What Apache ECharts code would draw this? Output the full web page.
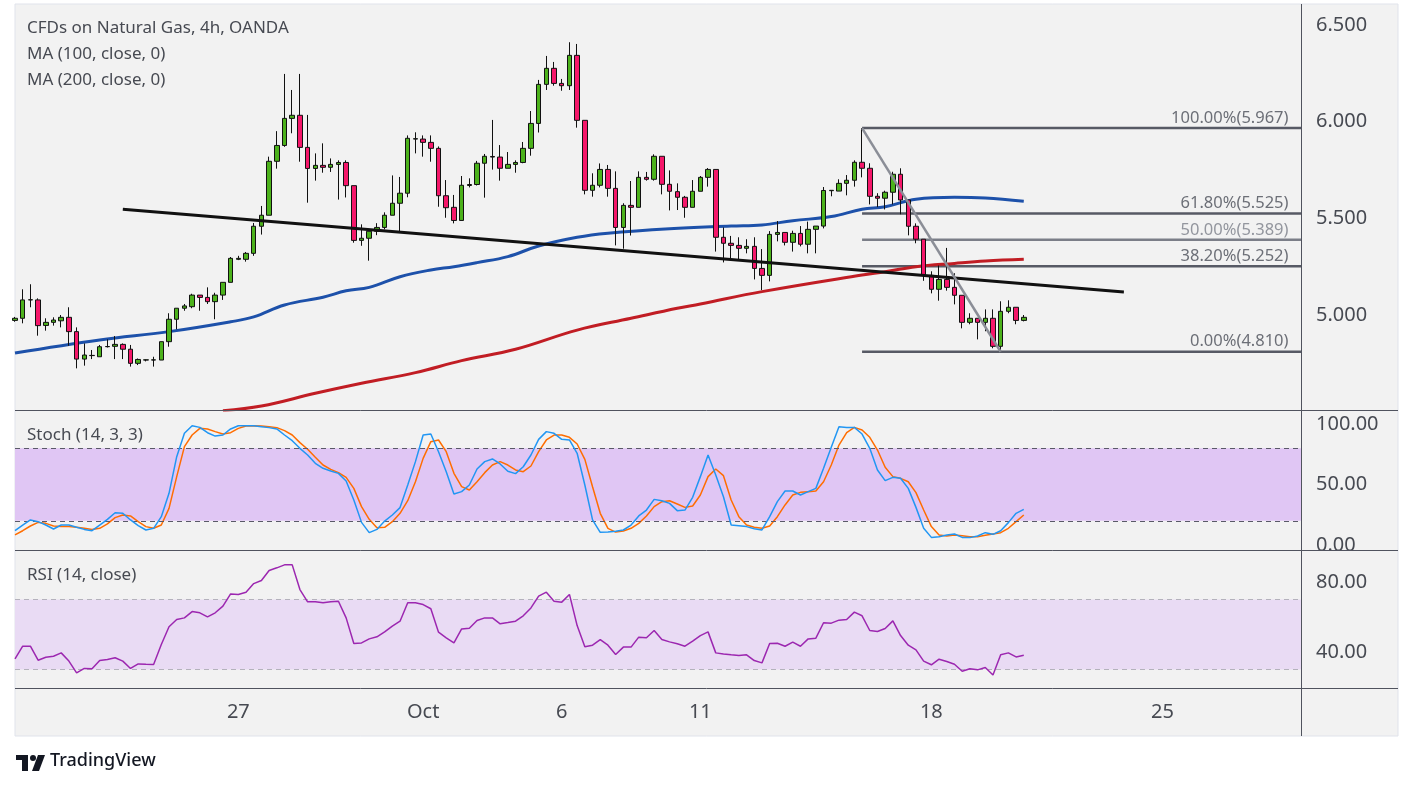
<!DOCTYPE html>
<html><head><meta charset="utf-8">
<script src="https://cdn.jsdelivr.net/npm/echarts@6/dist/echarts.min.js"></script>
<style>html,body{margin:0;padding:0;background:#fff}#c{width:1413px;height:789px}</style>
</head><body><div id="c"></div>
<script>
// ---- data ----
const opens=[4.972,4.983,5.078,5.078,4.946,4.962,4.970,4.988,4.914,4.772,
4.790,4.784,4.836,4.838,4.848,4.823,4.750,4.767,4.767,4.767,
4.862,4.978,5.035,5.043,5.103,5.091,5.069,5.103,5.169,5.288,
5.288,5.319,5.459,5.516,5.795,5.877,6.017,6.033,5.867,5.758,
5.774,5.764,5.779,5.789,5.669,5.386,5.397,5.433,5.453,5.516,
5.578,5.630,5.910,5.910,5.893,5.862,5.617,5.557,5.489,5.670,
5.675,5.785,5.820,5.817,5.759,5.779,5.789,5.862,5.991,6.193,
6.276,6.198,6.186,6.343,6.007,5.645,5.671,5.753,5.655,5.453,
5.567,5.557,5.712,5.702,5.821,5.676,5.638,5.609,5.557,5.640,
5.712,5.753,5.402,5.371,5.360,5.345,5.355,5.241,5.205,5.417,
5.427,5.376,5.422,5.366,5.443,5.460,5.643,5.641,5.681,5.697,
5.790,5.759,5.614,5.604,5.635,5.728,5.595,5.459,5.392,5.205,
5.133,5.184,5.143,5.102,4.962,4.983,4.962,4.983,4.838,5.019,
5.040,4.972];
const highs=[4.990,5.133,5.159,5.086,4.983,4.988,5.000,5.040,4.936,4.853,
4.819,4.845,4.874,4.891,4.853,4.845,4.775,4.770,4.784,4.862,
5.009,5.035,5.057,5.110,5.103,5.143,5.115,5.169,5.300,5.306,
5.326,5.476,5.564,5.819,5.951,6.247,6.164,6.247,6.035,5.836,
5.888,5.810,5.800,5.800,5.669,5.469,5.433,5.475,5.531,5.722,
5.714,5.929,5.945,5.929,5.929,5.872,5.698,5.621,5.719,5.707,
5.797,5.833,6.009,5.879,5.843,5.800,5.895,6.055,6.216,6.340,
6.309,6.221,6.411,6.402,6.007,5.733,5.784,5.776,5.743,5.578,
5.693,5.743,5.740,5.831,5.821,5.748,5.681,5.616,5.698,5.719,
5.760,5.753,5.453,5.409,5.402,5.392,5.402,5.341,5.434,5.486,
5.427,5.436,5.460,5.483,5.460,5.662,5.645,5.702,5.724,5.800,
5.967,5.785,5.630,5.643,5.741,5.759,5.595,5.474,5.392,5.226,
5.256,5.347,5.216,5.102,5.009,4.983,5.029,5.029,5.071,5.076,
5.040,5.000];
const lows=[4.965,4.957,5.040,4.893,4.919,4.945,4.936,4.841,4.724,4.738,
4.772,4.784,4.832,4.772,4.772,4.733,4.741,4.760,4.733,4.767,
4.836,4.926,5.022,5.035,5.022,5.057,4.978,5.078,5.169,5.284,
5.276,5.306,5.416,5.516,5.757,5.870,5.940,5.793,5.581,5.695,
5.736,5.740,5.597,5.608,5.374,5.358,5.281,5.413,5.443,5.516,
5.433,5.609,5.836,5.819,5.793,5.560,5.503,5.474,5.489,5.660,
5.670,5.607,5.752,5.695,5.759,5.736,5.785,5.824,5.944,6.164,
6.186,6.160,6.164,5.969,5.624,5.612,5.660,5.612,5.360,5.343,
5.411,5.557,5.695,5.695,5.624,5.541,5.543,5.503,5.557,5.640,
5.664,5.328,5.272,5.292,5.288,5.319,5.184,5.129,5.174,5.381,
5.360,5.328,5.355,5.319,5.319,5.448,5.614,5.641,5.619,5.664,
5.712,5.572,5.558,5.546,5.572,5.521,5.412,5.371,5.177,5.112,
5.074,5.126,5.055,4.931,4.952,4.874,4.916,4.828,4.810,5.009,
4.952,4.967];
const closes=[4.983,5.078,5.079,4.945,4.962,4.974,4.988,4.914,4.772,4.793,
4.791,4.836,4.837,4.848,4.823,4.750,4.770,4.768,4.768,4.862,
4.978,5.035,5.047,5.103,5.091,5.069,5.103,5.169,5.293,5.293,
5.319,5.459,5.516,5.795,5.877,6.017,6.033,5.867,5.758,5.774,
5.764,5.779,5.789,5.669,5.386,5.397,5.433,5.453,5.516,5.578,
5.630,5.914,5.912,5.893,5.862,5.617,5.555,5.489,5.671,5.675,
5.785,5.821,5.817,5.759,5.779,5.789,5.862,5.991,6.193,6.276,
6.198,6.186,6.343,6.007,5.645,5.671,5.753,5.655,5.453,5.567,
5.557,5.712,5.702,5.821,5.676,5.640,5.609,5.557,5.640,5.712,
5.753,5.402,5.371,5.360,5.345,5.355,5.241,5.205,5.417,5.427,
5.376,5.422,5.366,5.443,5.460,5.644,5.645,5.681,5.697,5.790,
5.759,5.614,5.604,5.635,5.728,5.595,5.459,5.392,5.205,5.133,
5.184,5.143,5.102,4.962,4.983,4.962,4.983,4.838,5.019,5.040,
4.972,4.988];
const ma100=[[0,4.803],[11,4.871],[20,4.914],[28,4.965],[31,4.990],[35,5.052],[40,5.092],[43,5.125],[46,5.143],[50,5.198],[54,5.233],[57,5.250],[60,5.271],[64,5.302],[68,5.357],[73,5.402],[77,5.423],[85,5.446],[93,5.460],[97,5.466],[101,5.488],[106,5.509],[110,5.547],[113,5.560],[117,5.599],[122,5.609],[126,5.605],[131,5.588]];
const ma200=[[27,4.505],[32,4.529],[39,4.595],[45,4.647],[52,4.702],[58,4.764],[65,4.823],[73,4.922],[80,4.983],[86,5.035],[89,5.057],[97,5.121],[110,5.207],[113,5.224],[117,5.250],[122,5.267],[126,5.279],[131,5.288]];
const stochK=[11.8,16.5,20.7,19.3,16.5,13.2,16.5,16.5,14.6,12.9,
11.8,16.5,21.2,26.7,26.2,20.7,16,12.4,13.8,23.4,
42.7,73,92.3,98.6,97.2,92.8,90,90.9,95.9,98.6,
98.6,98.6,97.8,97,95.9,90.9,86.2,79.9,74.4,67.5,
63.4,61.2,59.2,52.9,37.2,18.7,10.2,12.9,19.8,24.8,
30.9,49.6,68.9,90.9,91.7,77.1,60.6,42.1,44.1,49.6,
62.8,68.9,71.1,67,61,59,64.7,74.4,87.3,93.7,
92.3,87.3,86.8,75.8,49.6,20.7,10.5,10.7,11.3,12.4,
16.5,24,28.9,37.7,36.6,34.4,28.4,28.9,39.4,56.5,
74.4,57.9,39.9,16.5,16,15.2,13.5,12.4,23.4,35.8,
44.6,44.6,41.3,44.1,46.8,63.4,80.7,97.8,97.2,97.2,
91.7,79.9,62,53.2,55.9,55.1,46.8,31.1,13.8,6.3,
6.9,8.3,9.1,6.3,6.1,7.4,10.2,8.8,11.8,18.5,
26.2,29.5];
const stochD=[8.3,11.8,15.7,18.7,17.9,15.7,15.2,15.2,14.6,13.8,
12.9,13.8,17.4,22.6,24.8,24,19.3,15.2,13.8,16.5,
30.3,56.5,81.3,90.9,96.4,95.9,93.7,91.7,92.8,96.4,
98.3,98.6,98.3,97.8,97,94.5,90.9,84.6,79.1,72.5,
66.1,62.5,59.8,55.9,46.8,31.7,21.2,14.3,14.6,19.3,
26.2,36.6,52.3,71.6,85.4,86.8,77.1,59.2,48.2,45.5,
52.3,59.8,66.1,68.9,66.1,62,60.6,65.3,77.1,86.8,
90.9,90.9,89,83.5,70.8,48.2,26.2,13.8,10.7,11.6,
13.8,17.9,24,31.7,35.8,36.6,33.9,31.1,32.2,41.3,
56.5,62.8,57.3,37.2,23.4,16.5,14.6,13.8,15.7,23.4,
33.1,41.3,43.5,44.1,44.6,52.3,66.1,82.6,92.8,97.2,
95,89,78.5,64.2,56.5,55.1,52.3,43.3,28.9,15.2,
8.3,7.4,8.3,7.7,6.9,6.9,8,9.1,10.2,13.8,
19.3,24.8];
const rsi=[36.1,43.3,43.3,35.3,37,37.6,39.5,34.8,28.1,30.6,
30.4,35.1,35.7,36.7,34.8,30.6,33.2,33,32.9,44.3,
54.4,58.6,59.5,63.1,62.4,60.1,62.4,66.2,73.2,72.9,
74.2,79.1,80.9,86.6,88.1,89.8,89.8,75.7,68.7,68.7,
68.1,68.7,69,59.5,44.9,45.2,47.5,48.7,51.5,54.8,
57.6,68.1,68.1,67.1,64.7,51.3,48.1,45.2,53.2,53.6,
58,59.5,59.5,56.1,56.8,57.6,60.7,65.2,71.9,74.2,
69,68.5,72.9,55.1,43,43.9,47.1,43.9,38.6,42.8,
42.8,48.5,48.1,52.3,47.1,45.8,44.7,43.3,46.2,49.4,
51.5,39.5,38.9,38.4,38,38.4,35.1,33.8,44.9,45,
43.3,45.6,43.3,47.5,47.9,56.7,56.5,58.2,58.6,62.8,
60.7,52.3,51.7,53.4,57.8,49.4,43.9,41.2,34.8,32.7,
35.9,34.6,33,29,30.4,29.8,31.1,26.9,38.4,39.5,
37.2,38.2];
const slotCount=168;
const labelIdx=[29,53,71,89,119,149];
const labelText=['27','Oct','6','11','18','25'];
const priceTicks=[5,5.5,6,6.5];
const stochTicks=[0,50,100];
const rsiTicks=[40,80];
const fibPct=['100.00%','61.80%','50.00%','38.20%','0.00%'];
const fibVal=[5.967,5.525,5.389,5.252,4.810];
const fibStart=110;
const fibDiag=[[110,5.967],[128,4.810]];
const trend=[[14,5.547],[144,5.119]];
const stochBand=[20,80];
const rsiBand=[30,70];

// ---- chart ----
const categories=Array.from({length:slotCount},(_,i)=>String(i));
const candles=opens.map((o,i)=>[o,closes[i],lows[i],highs[i]]);
const FONT='"Noto Sans", "DejaVu Sans", sans-serif';
const TXT='#474a52';
const chart=echarts.init(document.getElementById('c'),null,{renderer:'canvas'});
const baseX={type:'category',data:categories,boundaryGap:false,axisLine:{show:false},axisTick:{show:false},splitLine:{show:false}};
const yBase={position:'right',axisLine:{show:false},axisTick:{show:false},splitLine:{show:false}};
const fibLine=['#575a65','#575a65','#7b7e88','#575a65','#575a65'];
const fibText=['#4a4d57','#4a4d57','#7b7e88','#4a4d57','#4a4d57'];
const series=[
 {type:'candlestick',xAxisIndex:0,yAxisIndex:0,data:candles,barWidth:5,clip:true,
  itemStyle:{color:'#4cb21c',color0:'#f5176a',borderColor:'#111',borderColor0:'#111',borderWidth:1},z:5},
 {type:'line',xAxisIndex:0,yAxisIndex:0,data:ma100,smooth:0.4,symbol:'none',clip:true,lineStyle:{color:'#1d51aa',width:3},z:4},
 {type:'line',xAxisIndex:0,yAxisIndex:0,data:ma200,smooth:0.4,symbol:'none',clip:true,lineStyle:{color:'#c11d24',width:3},z:4},
 {type:'line',xAxisIndex:0,yAxisIndex:0,data:trend,symbol:'none',lineStyle:{color:'#111',width:3},z:6}
];
fibVal.forEach((v,i)=>{
 series.push({type:'line',xAxisIndex:0,yAxisIndex:0,data:[[fibStart,v],[slotCount-1,v]],symbol:'none',lineStyle:{color:fibLine[i],width:2.5},z:3});
});
series.push({type:'scatter',xAxisIndex:0,yAxisIndex:0,symbolSize:1,itemStyle:{color:'rgba(0,0,0,0)'},z:7,
 data:fibVal.map((v,i)=>({value:[slotCount-1,v],label:{color:fibText[i]}})),
 label:{show:true,position:'left',distance:12,offset:[0,-10],fontFamily:FONT,fontSize:16.5,
  formatter:p=>fibPct[p.dataIndex]+'('+fibVal[p.dataIndex].toFixed(3)+')'}});
series.push({type:'line',xAxisIndex:0,yAxisIndex:0,data:fibDiag,symbol:'none',lineStyle:{color:'#8b8e97',width:2.5},z:6});
series.push({type:'line',xAxisIndex:1,yAxisIndex:1,data:stochK,symbol:'none',lineStyle:{color:'#2196f3',width:1.5},z:5,
 markArea:{silent:true,itemStyle:{color:'#e0c6f4'},data:[[{yAxis:stochBand[0]},{yAxis:stochBand[1]}]]},
 markLine:{silent:true,symbol:'none',label:{show:false},lineStyle:{type:[5,4],color:'#5a5a68',width:1},data:[{yAxis:stochBand[1]},{yAxis:stochBand[0]}]}});
series.push({type:'line',xAxisIndex:1,yAxisIndex:1,data:stochD,symbol:'none',lineStyle:{color:'#ff6d00',width:1.5},z:4});
series.push({type:'line',xAxisIndex:2,yAxisIndex:2,data:rsi,symbol:'none',lineStyle:{color:'#9c27b0',width:1.5},z:5,
 markArea:{silent:true,itemStyle:{color:'#e9dbf4'},data:[[{yAxis:rsiBand[0]},{yAxis:rsiBand[1]}]]},
 markLine:{silent:true,symbol:'none',label:{show:false},lineStyle:{type:[5,4],color:'#b4b2bc',width:1},data:[{yAxis:rsiBand[1]},{yAxis:rsiBand[0]}]}});

const lbl=(vals,fmt)=>({customValues:vals,formatter:v=>Number(v).toFixed(fmt),margin:15,color:TXT,fontSize:20,fontFamily:FONT});
const option={
 animation:false,backgroundColor:'#ffffff',
 grid:[{left:15,right:112,top:4,height:406},{left:15,right:112,top:410,height:140},{left:15,right:112,top:550,height:138}],
 xAxis:[Object.assign({gridIndex:0,axisLabel:{show:false}},baseX),
        Object.assign({gridIndex:1,axisLabel:{show:false}},baseX),
        Object.assign({gridIndex:2,axisLabel:{show:true,interval:i=>labelIdx.includes(i),
          formatter:(v,i)=>labelText[labelIdx.indexOf(i)]||'',margin:14,color:TXT,fontSize:20,fontFamily:FONT}},baseX)],
 yAxis:[Object.assign({gridIndex:0,type:'value',min:4.5086,max:6.6087,axisLabel:lbl(priceTicks,3)},yBase),
        Object.assign({gridIndex:1,type:'value',min:-4.13,max:111.57,axisLabel:lbl(stochTicks,2)},yBase),
        Object.assign({gridIndex:2,type:'value',min:19.43,max:98.29,axisLabel:lbl(rsiTicks,2)},yBase)],
 series:series,
 graphic:[
  {type:'rect',z:-10,shape:{x:15,y:4,width:1383,height:732},style:{fill:'#f2f2f2',stroke:'#e0e3eb',lineWidth:1}},
  {type:'line',z:50,shape:{x1:15,y1:410.5,x2:1398,y2:410.5},style:{stroke:'#50535e',lineWidth:1}},
  {type:'line',z:50,shape:{x1:15,y1:550.5,x2:1398,y2:550.5},style:{stroke:'#50535e',lineWidth:1}},
  {type:'line',z:50,shape:{x1:15,y1:688.5,x2:1398,y2:688.5},style:{stroke:'#50535e',lineWidth:1}},
  {type:'line',z:50,shape:{x1:1301.5,y1:4,x2:1301.5,y2:736},style:{stroke:'#50535e',lineWidth:1}},
  {type:'text',z:60,left:27,top:20,style:{text:'CFDs on Natural Gas, 4h, OANDA',fill:TXT,font:'17px '+FONT}},
  {type:'text',z:60,left:27,top:46,style:{text:'MA (100, close, 0)',fill:TXT,font:'17px '+FONT}},
  {type:'text',z:60,left:27,top:72,style:{text:'MA (200, close, 0)',fill:TXT,font:'17px '+FONT}},
  {type:'text',z:60,left:27,top:427,style:{text:'Stoch (14, 3, 3)',fill:TXT,font:'17px '+FONT}},
  {type:'text',z:60,left:27,top:567,style:{text:'RSI (14, close)',fill:TXT,font:'17px '+FONT}},
  {type:'rect',z:60,shape:{x:16,y:755,width:12,height:5},style:{fill:'#131722'}},
  {type:'rect',z:60,shape:{x:22,y:755,width:6,height:16},style:{fill:'#131722'}},
  {type:'circle',z:60,shape:{cx:33,cy:758,r:3},style:{fill:'#131722'}},
  {type:'polygon',z:60,shape:{points:[[38,755],[45,755],[39,771],[32,771]]},style:{fill:'#131722'}},
  {type:'text',z:60,left:50,top:752,style:{text:'TradingView',fill:'#131722',font:'500 18px '+FONT}}
 ]
};
chart.setOption(option);
</script></body></html>
